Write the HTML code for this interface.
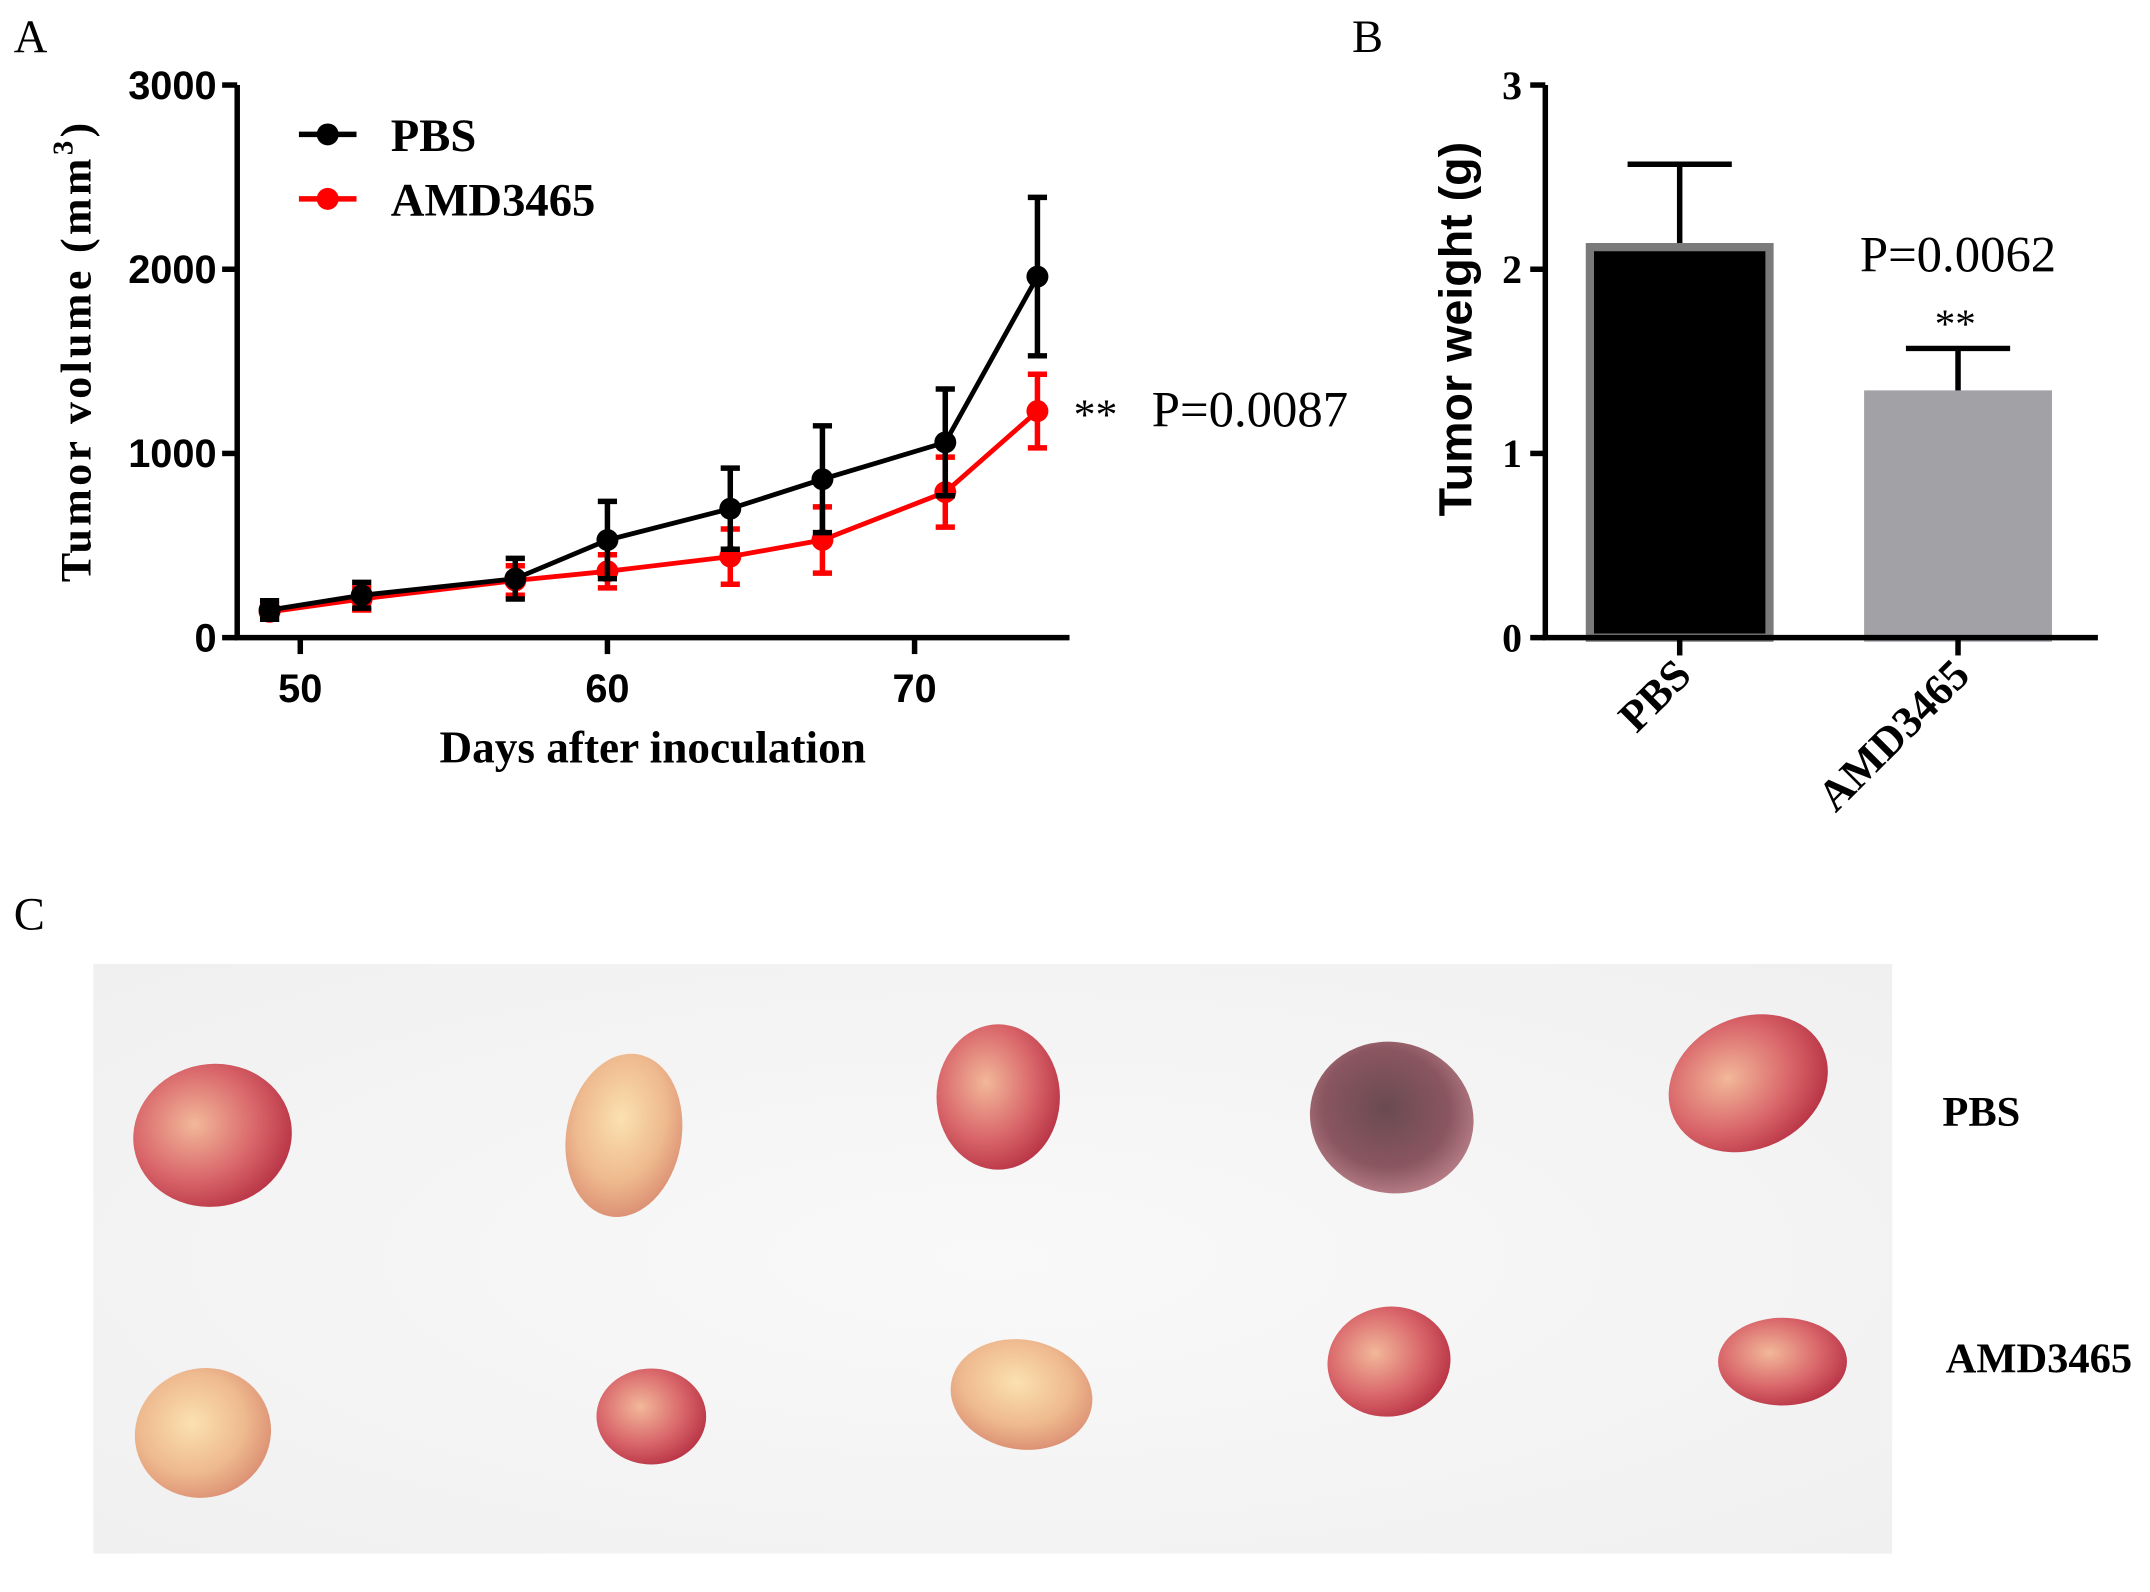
<!DOCTYPE html>
<html><head><meta charset="utf-8"><style>
html,body{margin:0;padding:0;background:#fff;}
svg{display:block;}
.serif{font-family:"Liberation Serif",serif;}
.sans{font-family:"Liberation Sans",sans-serif;}
</style></head><body>
<svg id="fig" width="2150" height="1592" viewBox="0 0 1568 1161" xmlns="http://www.w3.org/2000/svg">
<defs>
<radialGradient id="bg" cx="50%" cy="50%" r="70%"><stop offset="0" stop-color="#f9f9f9"/><stop offset="1" stop-color="#f0f0f0"/></radialGradient>
<radialGradient id="tumA" cx="40%" cy="40%" r="65%"><stop offset="0" stop-color="#f2b89a"/><stop offset="0.6" stop-color="#d9666a"/><stop offset="1" stop-color="#b83345"/></radialGradient>
<radialGradient id="tumB" cx="45%" cy="40%" r="65%"><stop offset="0" stop-color="#fbe1b0"/><stop offset="0.6" stop-color="#eeb98e"/><stop offset="1" stop-color="#d98a70"/></radialGradient>
<radialGradient id="tumC" cx="45%" cy="45%" r="65%"><stop offset="0" stop-color="#6a4a52"/><stop offset="0.6" stop-color="#8a5660"/><stop offset="1" stop-color="#c88c95"/></radialGradient>
</defs>
<g id="panelA"></g>
<g id="panelB"></g>
<g id="panelC"></g>
</svg>
<script>
// ---- Panel A data ----
const days = [49, 52, 57, 60, 64, 67, 71, 74];
const pbsMean = [150, 230, 320, 530, 700, 860, 1060, 1960];
const pbsErr = [50, 70, 110, 210, 220, 290, 290, 430];
const amdMean = [140, 210, 310, 360, 440, 530, 790, 1230];
const amdErr = [40, 60, 80, 90, 150, 180, 190, 200];
const volTicks = [0, 1000, 2000, 3000];
const dayTicks = [50, 60, 70];
// ---- Panel B data ----
const groups = ["PBS", "AMD3465"];
const weightMean = [2.12, 1.32];
const weightErr = [0.45, 0.25];
const weightTicks = [0, 1, 2, 3];

const NS = "http://www.w3.org/2000/svg";
function mk(parent, tag, attrs, text) {
  const e = document.createElementNS(NS, tag);
  for (const k in attrs) e.setAttribute(k, attrs[k]);
  if (text !== undefined) e.textContent = text;
  parent.appendChild(e);
  return e;
}

// ===== Panel A =====
const A = document.getElementById('panelA');
const ax = d => 219 + (d - 50) * 22.4;
const ay = v => 465 - v * (403 / 3000);
let t = mk(A, 'text', {x: 10, y: 38, 'font-size': 34, class: 'serif'}, 'A');


let l = mk(A, 'path', {d: 'M173 62 V465 H780', stroke: '#000', 'stroke-width': 4, fill: 'none'});


volTicks.forEach(v => {
  const y = ay(v);
  const tk = mk(A, 'line', {x1: 162, x2: 173, y1: y, y2: y, stroke: '#000', 'stroke-width': 4});
  
  
  const lb = mk(A, 'text', {x: 158, y: y + 10, 'font-size': 29, 'font-weight': 'bold', 'text-anchor': 'end', class: 'sans'}, v);
  
  
});
dayTicks.forEach(d => {
  const x = ax(d);
  const tk = mk(A, 'line', {x1: x, x2: x, y1: 465, y2: 477, stroke: '#000', 'stroke-width': 4});
  
  
  const lb = mk(A, 'text', {x: x, y: 512, 'font-size': 29, 'font-weight': 'bold', 'text-anchor': 'middle', class: 'sans'}, d);
  
  
});
t = mk(A, 'text', {x: 476, y: 556, 'font-size': 33, 'font-weight': 'bold', 'text-anchor': 'middle', class: 'serif'}, 'Days after inoculation');


t = mk(A, 'text', {x: 0, y: 0, 'font-size': 32, 'font-weight': 'bold', 'text-anchor': 'middle', class: 'serif', transform: 'translate(66,257) rotate(-90)', textLength: 335, lengthAdjust: 'spacing'});


t.innerHTML = 'Tumor volume (mm<tspan dy="-13" font-size="21">3</tspan><tspan dy="13">)</tspan>';

function series(means, errs, color, name) {
  const g = mk(A, 'g', {});
  
  
  means.forEach((m, i) => {
    const x = ax(days[i]), y1 = ay(m + errs[i]), y2 = ay(m - errs[i]);
    const e = mk(g, 'path', {d: `M${x} ${y1} V${y2} M${x-7} ${y1} H${x+7} M${x-7} ${y2} H${x+7}`, stroke: color, 'stroke-width': 4, fill: 'none'});
    
    
  });
  const pts = means.map((m, i) => ax(days[i]) + ',' + ay(m)).join(' ');
  const pl = mk(g, 'polyline', {points: pts, stroke: color, 'stroke-width': 3.5, fill: 'none'});
  
  
  means.forEach((m, i) => {
    const c = mk(g, 'circle', {cx: ax(days[i]), cy: ay(m), r: 8, fill: color});
    
    
  });
}
series(amdMean, amdErr, '#ff0000', 'series-amd3465');
series(pbsMean, pbsErr, '#000000', 'series-pbs');

[['PBS', '#000', 98], ['AMD3465', '#ff0000', 145]].forEach(([n, c, y]) => {
  const g = mk(A, 'g', {});
  
  
  mk(g, 'line', {x1: 218, x2: 260, y1: y, y2: y, stroke: c, 'stroke-width': 4});
  mk(g, 'circle', {cx: 239, cy: y, r: 8, fill: c});
  mk(g, 'text', {x: 285, y: y + 12, 'font-size': 34, 'font-weight': 'bold', class: 'serif'}, n);
});
t = mk(A, 'text', {x: 783, y: 313, 'font-size': 32, class: 'serif'}, '**');


t = mk(A, 'text', {x: 840, y: 311, 'font-size': 37, class: 'serif'}, 'P=0.0087');



// ===== Panel B =====
const B = document.getElementById('panelB');
const by = v => 465 - v * (403 / 3);
const bx = [1225, 1428];
const bw = 137;
t = mk(B, 'text', {x: 986, y: 38, 'font-size': 34, class: 'serif'}, 'B');


const fills = ['#000', '#a2a1a6'];
const strokes = ['#7a7a7a', '#a2a1a6'];
weightMean.forEach((m, i) => {
  const x = bx[i];
  const top = by(m + weightErr[i]);
  const e = mk(B, 'path', {d: `M${x} ${by(m)} V${top} M${x-38} ${top} H${x+38}`, stroke: '#000', 'stroke-width': 4, fill: 'none'});
  
  
  const r = mk(B, 'rect', {x: x - bw/2 + 3, y: by(m), width: bw - 6, height: 465 - by(m), fill: fills[i], stroke: strokes[i], 'stroke-width': 6});
  
  
  const tk = mk(B, 'line', {x1: x, x2: x, y1: 465, y2: 478, stroke: '#000', 'stroke-width': 4});
  
  
  const lb = mk(B, 'text', {x: 0, y: 0, 'font-size': 32, 'font-weight': 'bold', 'text-anchor': 'end', class: 'serif', transform: `translate(${x+10},${494}) rotate(-45)`}, groups[i]);
  
  
});
l = mk(B, 'path', {d: 'M1127 62 V465 H1530', stroke: '#000', 'stroke-width': 4, fill: 'none'});


weightTicks.forEach(v => {
  const y = by(v);
  const tk = mk(B, 'line', {x1: 1116, x2: 1127, y1: y, y2: y, stroke: '#000', 'stroke-width': 4});
  
  
  const lb = mk(B, 'text', {x: 1110, y: y + 10, 'font-size': 29, 'font-weight': 'bold', 'text-anchor': 'end', class: 'serif'}, v);
  
  
});
t = mk(B, 'text', {x: 0, y: 0, 'font-size': 34, 'font-weight': 'bold', 'text-anchor': 'middle', class: 'sans', transform: 'translate(1073,240) rotate(-90)'}, 'Tumor weight (g)');


t = mk(B, 'text', {x: 1428, y: 198, 'font-size': 37, 'text-anchor': 'middle', class: 'serif'}, 'P=0.0062');


t = mk(B, 'text', {x: 1426, y: 246, 'font-size': 30, 'text-anchor': 'middle', class: 'serif'}, '**');



// ===== Panel C =====
const C = document.getElementById('panelC');
t = mk(C, 'text', {x: 10, y: 678, 'font-size': 34, class: 'serif'}, 'C');


const ph = mk(C, 'rect', {x: 68, y: 703, width: 1312, height: 430, fill: 'url(#bg)'});


const tumors = [
  [155,828,58,52,'tumA',-10],[455,828,42,60,'tumB',10],[728,800,45,53,'tumA',0],[1015,815,60,55,'tumC',15],[1275,790,60,48,'tumA',-25],
  [148,1045,50,47,'tumB',-20],[475,1033,40,35,'tumA',0],[745,1017,52,40,'tumB',10],[1013,993,45,40,'tumA',-10],[1300,993,47,32,'tumA',0]
];
tumors.forEach((p, i) => {
  const e = mk(C, 'ellipse', {cx: p[0], cy: p[1], rx: p[2], ry: p[3], fill: `url(#${p[4]})`, transform: `rotate(${p[5]} ${p[0]} ${p[1]})`});
  
  
});
t = mk(C, 'text', {x: 1445, y: 821, 'font-size': 31, 'font-weight': 'bold', 'text-anchor': 'middle', class: 'serif'}, 'PBS');


t = mk(C, 'text', {x: 1487, y: 1001, 'font-size': 31, 'font-weight': 'bold', 'text-anchor': 'middle', class: 'serif'}, 'AMD3465');


</script>
</body></html>
